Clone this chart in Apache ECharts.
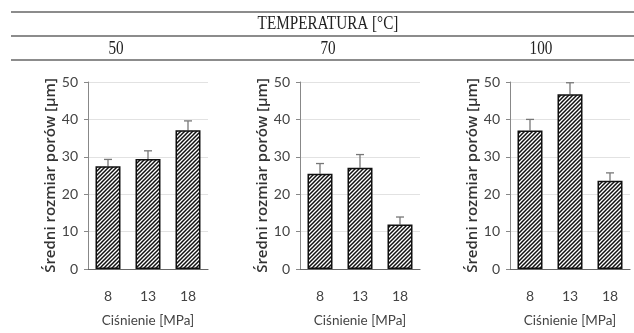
<!DOCTYPE html>
<html><head><meta charset="utf-8">
<script src="https://cdn.jsdelivr.net/npm/echarts@6/dist/echarts.min.js"></script>
<style>html,body{margin:0;padding:0;background:#fff}#c{width:634px;height:333px}</style>
</head><body><div id="c"></div>
<script>
const pressures = ['8', '13', '18'];
const temps = ['50', '70', '100'];
const mean50 = [27.5, 29.4, 37.1];
const err50 = [1.8, 2.2, 2.5];
const mean70 = [25.5, 27.1, 11.9];
const err70 = [2.7, 3.5, 2.0];
const mean100 = [37.0, 46.7, 23.6];
const err100 = [3.0, 3.1, 2.1];
const yTicks = [0, 10, 20, 30, 40, 50];

const means = [mean50, mean70, mean100];
const errs = [err50, err70, err100];

// hatch pattern
const pc = document.createElement('canvas');
const s = 4;
pc.width = s; pc.height = s;
const g = pc.getContext('2d');
g.fillStyle = '#fff'; g.fillRect(0, 0, s, s);
g.strokeStyle = '#111'; g.lineWidth = 1.5;
g.beginPath();
g.moveTo(-1, s + 1); g.lineTo(s + 1, -1);
g.moveTo(-1, 1); g.lineTo(1, -1);
g.moveTo(s - 1, s + 1); g.lineTo(s + 1, s - 1);
g.stroke();

const font = 'Lato, "Open Sans", sans-serif';
const grids = [
  {left: 88, width: 120, top: 82, bottom: 58},
  {left: 300, width: 120, top: 82, bottom: 57},
  {left: 510, width: 120, top: 82, bottom: 58}
];
const xAxes = [], yAxes = [], series = [];
grids.forEach((gr, i) => {
  xAxes.push({
    gridIndex: i, type: 'category', data: pressures,
    name: 'Ciśnienie [MPa]', nameLocation: 'middle', nameGap: 45,
    nameTextStyle: {fontFamily: font, fontSize: 13.5, color: '#444'},
    axisLine: {lineStyle: {color: '#666', width: 1.2}},
    axisTick: {show: false},
    axisLabel: {fontFamily: font, fontSize: 14, color: '#444', margin: 20}
  });
  yAxes.push({
    gridIndex: i, type: 'value', min: 0, max: 50, interval: 10,
    name: 'Średni rozmiar porów [µm]', nameLocation: 'middle', nameGap: 29,
    nameTextStyle: {fontFamily: '"Open Sans", sans-serif', fontSize: 15, fontWeight: 600, color: '#333'},
    axisLine: {show: true, lineStyle: {color: '#888'}},
    axisTick: {show: true, length: 4, lineStyle: {color: '#888'}},
    axisLabel: {fontFamily: font, fontSize: 14, color: '#444', margin: 10,
      formatter: v => yTicks.includes(v) ? String(v) : ''},
    splitLine: {show: true, lineStyle: {color: '#e2e2e2'}}
  });
  series.push({
    type: 'bar', xAxisIndex: i, yAxisIndex: i, data: means[i],
    barWidth: 25,
    itemStyle: {color: {image: pc, repeat: 'repeat'}, borderColor: '#111', borderWidth: 1.5},
    z: 2
  });
  series.push({
    type: 'custom', xAxisIndex: i, yAxisIndex: i, z: 1,
    data: means[i].map((m, k) => [k, m, m + errs[i][k]]),
    renderItem: (params, api) => {
      const p0 = api.coord([api.value(0), api.value(1)]);
      const p1 = api.coord([api.value(0), api.value(2)]);
      const st = {stroke: '#777', lineWidth: 1.3};
      return {type: 'group', children: [
        {type: 'line', shape: {x1: p0[0], y1: p0[1], x2: p1[0], y2: p1[1]}, style: st},
        {type: 'line', shape: {x1: p1[0] - 4, y1: p1[1], x2: p1[0] + 4, y2: p1[1]}, style: st}
      ]};
    }
  });
});

const hx = [116, 328, 541];
const serif = '19px "Liberation Serif", serif';
const graphic = [
  {type: 'line', shape: {x1: 11, y1: 12, x2: 634, y2: 12}, style: {stroke: '#666', lineWidth: 1.5}},
  {type: 'line', shape: {x1: 11, y1: 36, x2: 634, y2: 36}, style: {stroke: '#666', lineWidth: 1.5}},
  {type: 'line', shape: {x1: 11, y1: 60, x2: 634, y2: 60}, style: {stroke: '#666', lineWidth: 1.5}},
  {type: 'text', x: 328, y: 24, scaleX: 0.8, style: {text: 'TEMPERATURA [°C]', font: serif, fill: '#222', textAlign: 'center', textVerticalAlign: 'middle'}}
];
temps.forEach((t, i) => graphic.push({type: 'text', x: hx[i], y: 49, scaleX: 0.8,
  style: {text: t, font: serif, fill: '#222', textAlign: 'center', textVerticalAlign: 'middle'}}));

const chart = echarts.init(document.getElementById('c'));
chart.setOption({
  animation: false,
  grid: grids, xAxis: xAxes, yAxis: yAxes, series: series, graphic: graphic
});
</script></body></html>
